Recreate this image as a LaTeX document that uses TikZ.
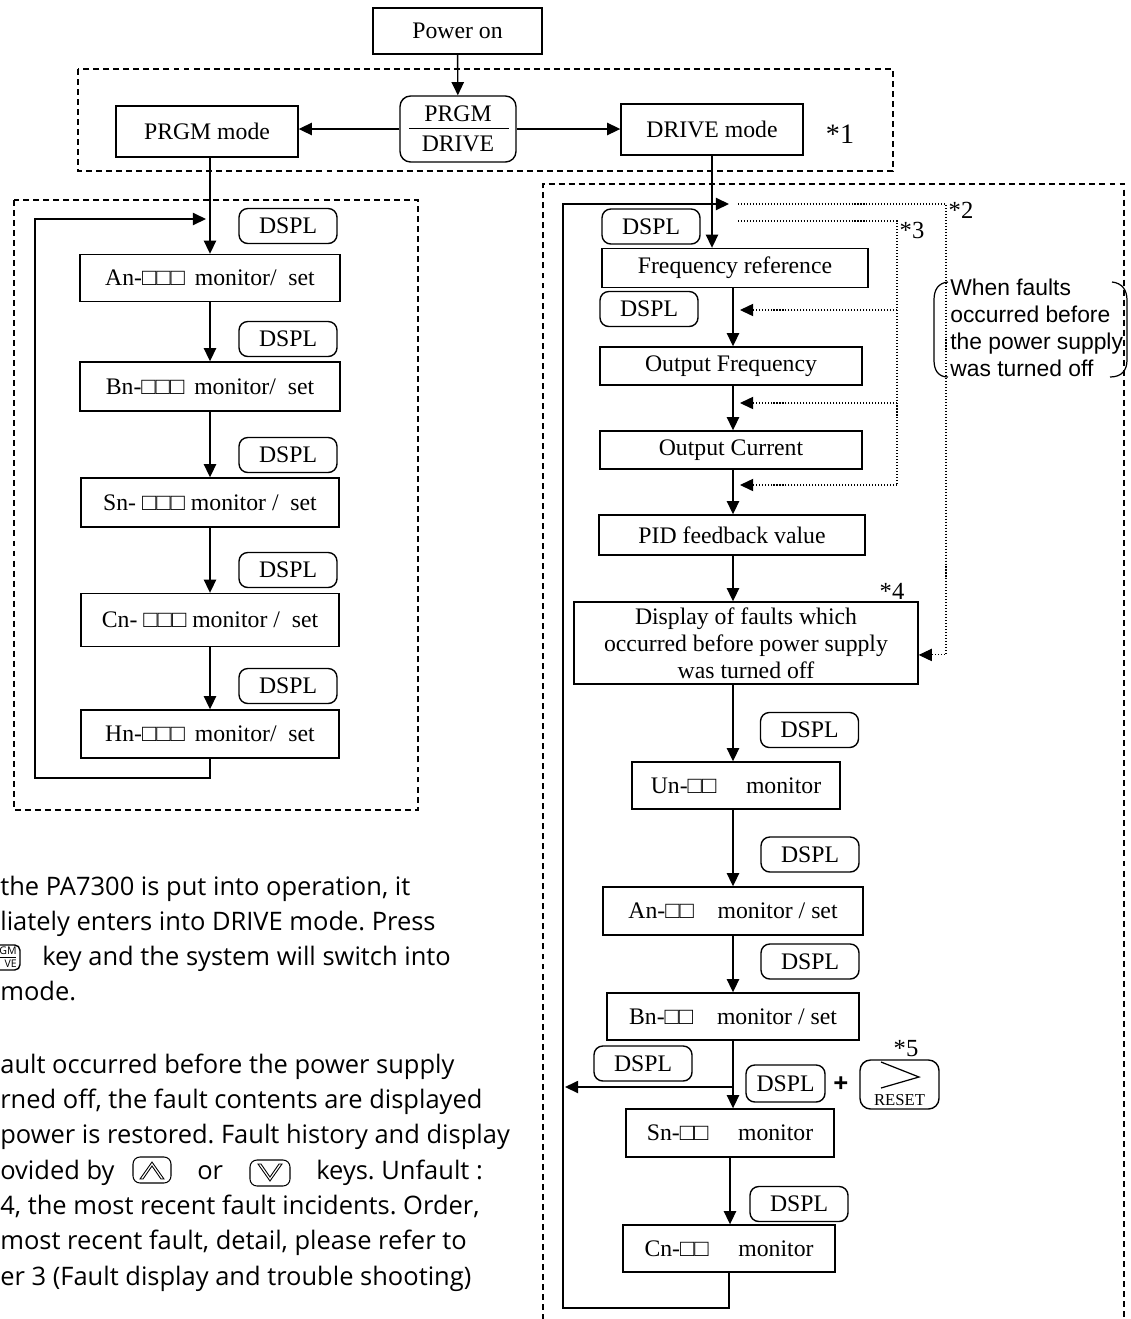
\documentclass[tikz,border=0pt]{standalone}
\usepackage{fontspec}
\setmainfont{Liberation Serif}
\newfontfamily\notefont{Open Sans}
\newfontfamily\bracefont{Liberation Sans}
\usetikzlibrary{arrows.meta,positioning}
\frenchspacing

\begin{document}
\begin{tikzpicture}[x=0.02cm, y=-0.02cm,
    box/.style={draw, line width=0.8pt, inner sep=0pt, font=\fontsize{13.5}{15.3}\selectfont},
    dspl/.style={draw, line width=0.8pt, rounded corners=5pt, inner sep=0pt, minimum width=1.96cm, minimum height=0.7cm, font=\fontsize{13.5}{15}\selectfont},
    keybox/.style={draw, line width=0.8pt, rounded corners=6pt, inner sep=0pt},
    flow/.style={line width=0.8pt, -{Triangle[length=7.5pt,width=7pt]}},
    back/.style={line width=0.6pt, dash pattern=on 0.6pt off 1.1pt, -{Triangle[length=7.5pt,width=7pt]}},
    frame/.style={line width=0.6pt, dash pattern=on 3.4pt off 2.3pt},
    star/.style={inner sep=0pt, font=\fontsize{14}{16}\selectfont},
    note/.style={anchor=base west, inner sep=0pt, font=\notefont\fontsize{14.5}{17}\selectfont}]
    \useasboundingbox (0,0) rectangle (1131,1319);
    \clip (0,0) rectangle (1131,1319);

    % power on and mode key
    \node[box, minimum width=3.38cm, minimum height=0.92cm] (pwr) at (457.5,31) {Power on};
    \node[keybox, minimum width=2.32cm, minimum height=1.32cm] (sel) at (458,129) {};
    \node[box, draw=none] (selup) at (458,114) {PRGM};
    \node[box, draw=none] (seldn) at (458,144) {DRIVE};
    \draw[line width=0.8pt] (409,128.5) -- (509,128.5);
    \node[box, minimum width=3.64cm, minimum height=1.02cm] (prgm) at (207,131.5) {PRGM mode};
    \node[box, minimum width=3.64cm, minimum height=1.02cm] (drive) at (712,129.5) {DRIVE mode};
    \node[star, font=\fontsize{16}{18}\selectfont] (s1) at (840,134) {*1};
    \draw[frame] (78,69) rectangle (893,171);

    \draw[flow] (pwr) -- (sel);
    \draw[flow] (sel.west) -- (sel.west -| prgm.east);
    \draw[flow] (sel.east) -- (sel.east -| drive.west);

    % PRGM mode loop
    \draw[frame] (14,200) rectangle (418,810);
    \node[box, minimum width=5.2cm, minimum height=0.94cm] (an) at (210,278) {An-□□□\,\ monitor/\ \ set};
    \node[box, minimum width=5.2cm, minimum height=0.98cm] (bn) at (210,386.5) {Bn-□□□\,\ monitor/\ \ set};
    \node[box, minimum width=5.16cm, minimum height=0.98cm] (sn) at (210,502.5) {Sn- □□□ monitor /\ \ set};
    \node[box, minimum width=5.16cm, minimum height=1.06cm] (cn) at (210,620) {Cn- □□□ monitor /\ \ set};
    \node[box, minimum width=5.16cm, minimum height=0.96cm] (hn) at (210,734) {Hn-□□□\,\ monitor/\ \ set};
    \foreach \y [count=\i] in {226,339,455,570,686}
        \node[dspl] (ld\i) at (288,\y) {DSPL};

    \draw[flow] (an.north |- prgm.south) -- (an.north);
    \draw[flow] (an) -- (bn);
    \draw[flow] (bn) -- (sn);
    \draw[flow] (sn) -- (cn);
    \draw[flow] (cn) -- (hn);
    \coordinate (lin) at (206,219);
    \draw[flow] (hn.south) |- (35,778) |- (lin);

    % DRIVE mode loop
    \draw[frame] (543,1330) -- (543,184) -- (1124,184) -- (1124,1330);
    \coordinate (col) at (733,0);
    \node[dspl] (rd1) at (651,226.5) {DSPL};
    \node[box, minimum width=5.32cm, minimum height=0.78cm] (freq) at (735,268) {Frequency reference};
    \node[dspl] (rd2) at (649,309) {DSPL};
    \node[box, minimum width=5.24cm, minimum height=0.76cm] (outf) at (731,366) {Output Frequency};
    \node[box, minimum width=5.24cm, minimum height=0.76cm] (outc) at (731,450) {Output Current};
    \node[box, minimum width=5.32cm, minimum height=0.8cm] (pid) at (732,535) {PID feedback value};
    \node[box, minimum width=6.88cm, minimum height=1.64cm, align=center] (flt) at (746,643)
        {Display of faults which\\occurred before power supply\\was turned off};
    \node[star] (s4) at (892,591) {*4};
    \node[dspl] (rd3) at (809.5,730) {DSPL};
    \node[box, minimum width=4.16cm, minimum height=0.94cm] (un) at (736,785.5) {Un-□□\quad\ monitor};
    \node[dspl] (rd4) at (810,854.5) {DSPL};
    \node[box, minimum width=5.2cm, minimum height=0.96cm] (an2) at (733,911) {An-□□\quad monitor / set};
    \node[dspl] (rd5) at (810,961.5) {DSPL};
    \node[box, minimum width=5.04cm, minimum height=0.94cm] (bn2) at (733,1016.5) {Bn-□□\quad monitor / set};
    \node[dspl] (rd6) at (643,1063.5) {DSPL};
    \node[dspl, minimum width=1.58cm, minimum height=0.74cm] (rd7) at (785.5,1083.5) {DSPL};
    \node[inner sep=0pt, font=\bfseries\notefont\fontsize{15}{15}\selectfont] (plus) at (841,1085) {+};
    \node[keybox, minimum width=1.58cm, minimum height=0.98cm] (rst) at (899.5,1084.5) {};
    \draw[line width=0.7pt] (881,1062) -- (919,1077) -- (881,1088);
    \node[inner sep=0pt, font=\fontsize{9.5}{10}\selectfont] (rsttxt) at (899.5,1100) {RESET};
    \node[star] (s5) at (906,1049) {*5};
    \node[box, minimum width=4.16cm, minimum height=0.96cm] (sn2) at (730,1133) {Sn-□□\quad\ monitor};
    \node[dspl] (rd8) at (799,1204) {DSPL};
    \node[box, minimum width=4.24cm, minimum height=0.94cm] (cn2) at (729,1248.5) {Cn-□□\quad\ monitor};

    \draw[flow] (drive.south) -- (drive.south |- freq.north);
    \draw[flow] (freq.south -| col) -- (outf.north -| col);
    \draw[flow] (outf.south -| col) -- (outc.north -| col);
    \draw[flow] (outc.south -| col) -- (pid.north -| col);
    \draw[flow] (pid.south -| col) -- (flt.north -| col);
    \draw[flow] (flt.south -| col) -- (un.north -| col);
    \draw[flow] (un.south -| col) -- (an2.north -| col);
    \draw[flow] (an2.south -| col) -- (bn2.north -| col);
    \draw[flow] (bn2.south -| col) -- (sn2.north -| col);
    \draw[flow] (sn2.south) -- (sn2.south |- cn2.north);
    \coordinate (brk) at (733,1087);
    \coordinate (lout) at (565,1087);
    \draw[flow] (brk) -- (lout);
    \coordinate (rin) at (729,204);
    \draw[flow] (cn2.south) |- (563,1308) |- (rin);

    % fault paths *2 and *3
    \coordinate (d2) at (738,204);
    \coordinate (d3) at (738,221);
    \draw[back] (d2) -- (946,204) |- ([yshift=-6.8pt]flt.east);
    \node[star] (s2) at (961,210) {*2};
    \draw[line width=0.6pt, dash pattern=on 0.6pt off 1.1pt] (d3) -- (897,221) -- (897,485);
    \foreach \y in {310,403,485}
        \draw[back] (897,\y) -- (740,\y);
    \node[star] (s3) at (912,230) {*3};

    % bracketed remark
    \draw[line width=0.7pt] (948,282) .. controls (938,283) and (934,290) .. (934,300) -- (934,360) .. controls (934,370) and (938,377) .. (948,377);
    \draw[line width=0.7pt] (1112,282) .. controls (1122,283) and (1127,290) .. (1127,300) -- (1127,360) .. controls (1127,370) and (1122,377) .. (1110,377);
    \foreach \y/\t [count=\i] in {295/When faults, 322/occurred before, 349/the power supply, 376/was turned off}
        \node[anchor=base west, inner sep=0pt, font=\bracefont\fontsize{13}{15}\selectfont] (br\i) at (950,\y) {\t};

    % notes below
    \foreach \x/\y/\t [count=\i] in {0/895/{the PA7300 is put into operation, it},
        0/930/{liately enters into DRIVE mode. Press},
        42/965/{key and the system will switch into},
        0/1000/{mode.},
        0/1073/{ault occurred before the power supply},
        0/1108/{rned off, the fault contents are displayed},
        0/1143/{power is restored. Fault history and display},
        0/1179/{ovided by},
        197/1179/{or},
        316/1179/{keys. Unfault :},
        0/1214/{4, the most recent fault incidents. Order,},
        0/1249/{most recent fault, detail, please refer to},
        0/1285/{er 3 (Fault display and trouble shooting)}}
        \node[note] (ln\i) at (\x,\y) {\t};

    % small keys in the notes
    \node[keybox, rounded corners=3pt, minimum width=0.8cm, minimum height=0.5cm] (pkey) at (0,957.5) {};
    \draw[line width=0.4pt] (-20,957.5) -- (16,957.5);
    \node[anchor=east, inner sep=0pt, font=\notefont\fontsize{6}{6}\selectfont] (pk1) at (17,951) {GM};
    \node[anchor=east, inner sep=0pt, font=\notefont\fontsize{6}{6}\selectfont] (pk2) at (17,964) {VE};
    \node[keybox, line width=0.6pt, rounded corners=4pt, minimum width=0.76cm, minimum height=0.52cm] (upk) at (152,1170) {};
    \draw[line width=0.5pt] (140,1179) -- (152,1162) -- (164,1179) -- (161,1179) -- (152,1166) -- (143,1179) -- cycle;
    \node[keybox, line width=0.6pt, rounded corners=4pt, minimum width=0.8cm, minimum height=0.52cm] (dnk) at (270,1173) {};
    \draw[line width=0.5pt] (258,1164) -- (270,1181) -- (282,1164) -- (279,1164) -- (270,1177) -- (261,1164) -- cycle;
\end{tikzpicture}
\end{document}
